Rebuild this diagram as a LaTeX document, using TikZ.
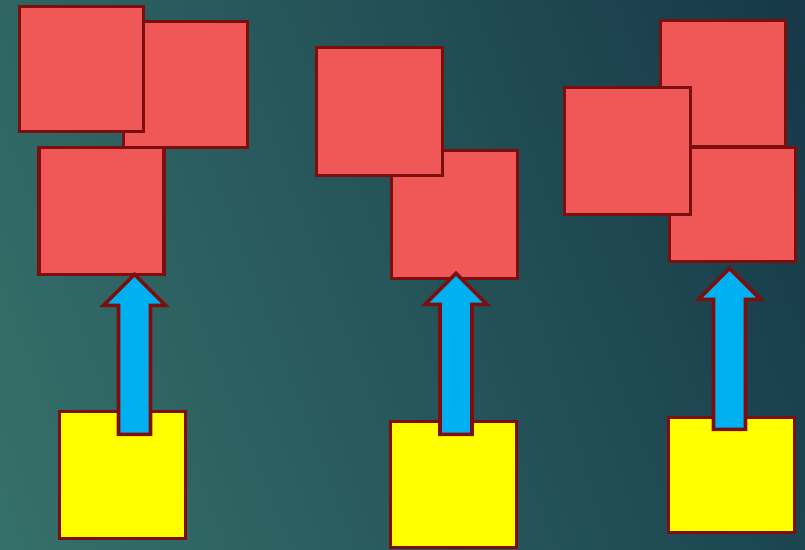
\documentclass[tikz,border=0pt]{standalone}
\usetikzlibrary{calc,shadings}
\definecolor{bgUL}{HTML}{2F6563}
\definecolor{bgLL}{HTML}{36706A}
\definecolor{bgUR}{HTML}{163848}
\definecolor{bgLR}{HTML}{1B4450}
\definecolor{redfill}{HTML}{F05858}
\definecolor{edgecol}{HTML}{7C0E0E}
\definecolor{arrowblue}{HTML}{00B0F0}
\definecolor{sqyellow}{HTML}{FFFF00}
\tikzset{
  sqbase/.style={draw=edgecol, line width=3.6pt, inner sep=0pt, outer sep=0pt, rectangle},
  redsq/.style={sqbase, fill=redfill},
  yelsq/.style={sqbase, fill=sqyellow},
  blockarr/.style={draw=edgecol, line width=3.6pt, fill=arrowblue, line join=miter}
}
\newcommand{\blockarrowdraw}[2]{%
  \draw[blockarr] let \p1=(#1), \p2=(#2) in
    (\x1,\y1) -- ({\x1+31pt},{\y1-31pt}) -- ({\x1+16pt},{\y1-31pt}) --
    ({\x1+16pt},\y2) -- ({\x1-16pt},\y2) -- ({\x1-16pt},{\y1-31pt}) --
    ({\x1-31pt},{\y1-31pt}) -- cycle;}
\begin{document}
\begin{tikzpicture}[x=1pt,y=-1pt]
\useasboundingbox (0,0) rectangle (805,549);
\shade[upper left=bgUL, lower left=bgLL, upper right=bgUR, lower right=bgLR] (0,0) rectangle (805,549);
% group 1
\node[redsq, minimum width=124pt, minimum height=126pt] (b1) at (185.5,84.5) {};
\node[redsq, minimum width=124pt, minimum height=125pt] (a1) at (81.5,69) {};
\node[redsq, minimum width=125pt, minimum height=127pt] (c1) at (101.5,210.8) {};
\node[yelsq, minimum width=126pt, minimum height=127pt] (y1) at (122.5,475) {};
% group 2
\node[redsq, minimum width=126pt, minimum height=128pt] (e2) at (454.5,214.5) {};
\node[redsq, minimum width=126pt, minimum height=128pt] (d2) at (379.5,111.5) {};
\node[yelsq, minimum width=126pt, minimum height=126pt] (y2) at (453.5,484.5) {};
% group 3
\node[redsq, minimum width=125pt, minimum height=126pt] (f3) at (723,83.5) {};
\node[redsq, minimum width=126pt, minimum height=114pt] (g3) at (732.5,204.5) {};
\node[redsq, minimum width=126pt, minimum height=127pt] (h3) at (627.5,151) {};
\node[yelsq, minimum width=126pt, minimum height=115pt] (y3) at (731.5,475) {};
% arrow end points
\coordinate (tip1) at (134.5,274.3);
\coordinate (tail1) at (134.5,434.3);
\coordinate (tip2) at (456,273.3);
\coordinate (tail2) at (456,434.3);
\coordinate (tip3) at (729.5,268.3);
\coordinate (tail3) at (729.5,429.3);
\blockarrowdraw{tip1}{tail1}
\blockarrowdraw{tip2}{tail2}
\blockarrowdraw{tip3}{tail3}
\end{tikzpicture}
\end{document}
